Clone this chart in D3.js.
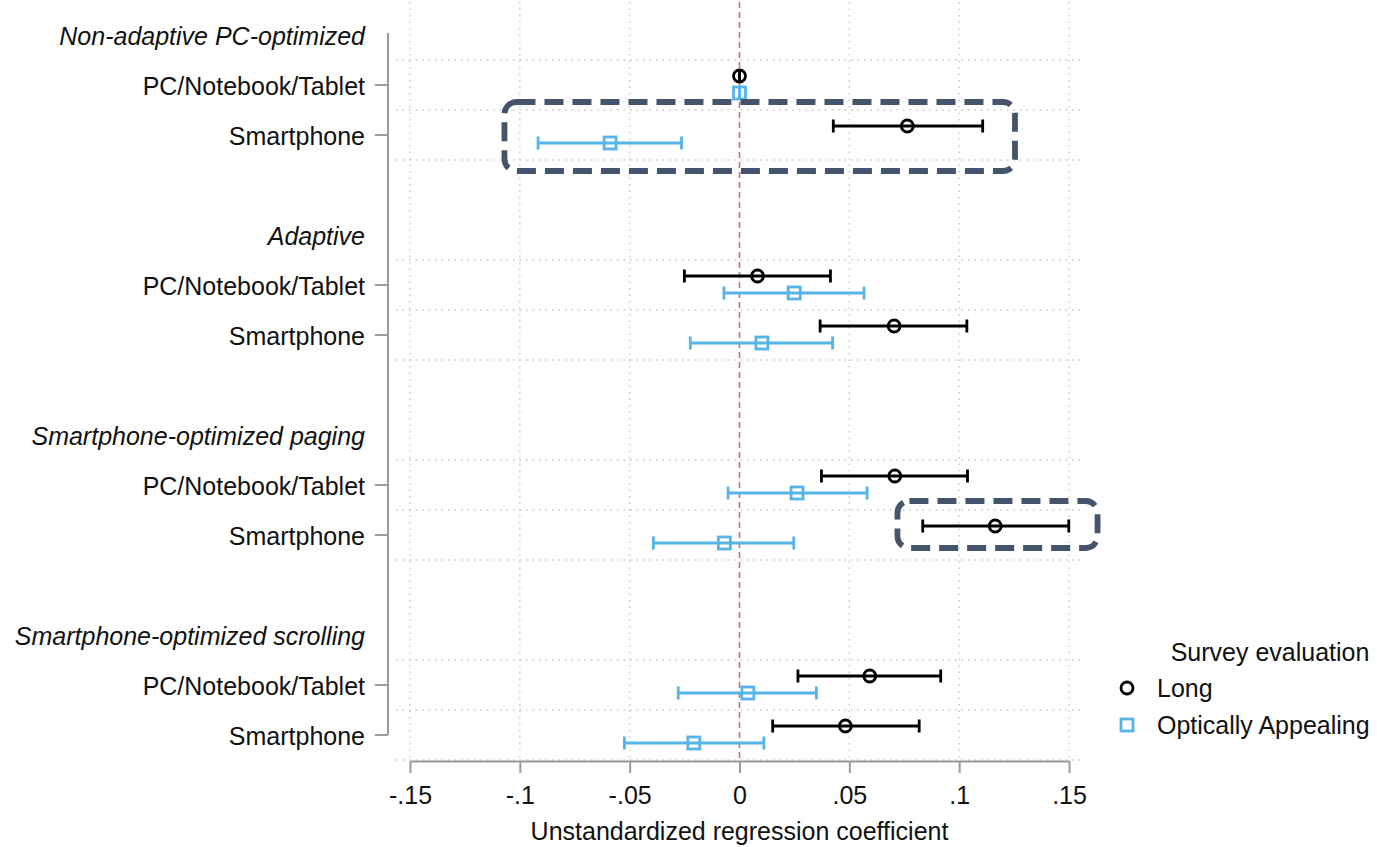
<!DOCTYPE html>
<html>
<head>
<meta charset="utf-8">
<script src="https://cdn.jsdelivr.net/npm/d3@7"></script>
<style>
  html, body { margin: 0; padding: 0; background: #fff; }
  svg { display: block; font-family: "Liberation Sans", Arial, sans-serif; }
</style>
</head>
<body>
<svg id="chart" width="1377" height="847"></svg>
<script>
// Layout groups and device rows
const groups = ["Non-adaptive PC-optimized", "Adaptive", "Smartphone-optimized paging", "Smartphone-optimized scrolling"];
const devices = ["PC/Notebook/Tablet", "Smartphone"];

// Coefficients and 95% CI bounds, one entry per group x device (in order)
const longEst = [0, 0.0764, 0.0082, 0.0704, 0.0707, 0.1164, 0.0593, 0.0482];
const longLo  = [0, 0.0427, -0.0251, 0.0367, 0.0373, 0.0834, 0.0266, 0.0151];
const longHi  = [0, 0.1107, 0.0414, 0.1035, 0.1038, 0.1499, 0.0916, 0.0818];
const optEst  = [0, -0.0589, 0.0249, 0.0102, 0.0262, -0.0069, 0.0038, -0.0208];
const optLo   = [0, -0.0917, -0.0071, -0.0224, -0.0052, -0.0392, -0.0279, -0.0524];
const optHi   = [0, -0.0264, 0.0567, 0.0424, 0.0581, 0.0247, 0.0350, 0.0111];

const seriesNames = ["Long", "Optically Appealing"];
const xTicks = [-0.15, -0.1, -0.05, 0, 0.05, 0.1, 0.15];
const xTickLabels = ["-.15", "-.1", "-.05", "0", ".05", ".1", ".15"];
const legendTitle = "Survey evaluation";
const xTitle = "Unstandardized regression coefficient";

// Highlight boxes: coefficient range and row-slot range
const highlightX0 = [-0.107, 0.0719];
const highlightX1 = [0.1254, 0.163];
const highlightS0 = [1.34, 9.32];
const highlightS1 = [2.72, 10.26];

const svg = d3.select("#chart");
const FONT = 25;
const colLong = "#000000";
const colOpt = "#56B4E9";

const x = d3.scaleLinear().domain([-0.15, 0.15]).range([410, 1069]);
// each group takes 4 slots: header, PC, Smartphone, spacer
const y = d3.scaleLinear().domain([0, 15]).range([35, 785]);
const plotTop = 2, axisY = 761;

const rows = [];
groups.forEach((g, gi) => devices.forEach((d, di) => {
  const i = gi * 2 + di;
  rows.push({ group: g, device: d, slot: gi * 4 + 1 + di,
    long: { est: longEst[i], lo: longLo[i], hi: longHi[i] },
    opt: { est: optEst[i], lo: optLo[i], hi: optHi[i] } });
}));

// dotted gridlines: horizontal ones around each device row, vertical ones at ticks
const gridG = svg.append("g").attr("stroke", "#c4c4c4").attr("stroke-width", 1.3)
  .attr("stroke-dasharray", "1.5,5");
groups.forEach((g, gi) => {
  [0.5, 1.5, 2.5].forEach(o => {
    const yy = y(gi * 4 + o);
    gridG.append("line").attr("x1", 396).attr("x2", 1080).attr("y1", yy).attr("y2", yy);
  });
});
xTicks.filter(t => t !== 0).forEach(t => {
  gridG.append("line").attr("x1", x(t)).attr("x2", x(t)).attr("y1", plotTop).attr("y2", axisY);
});

// reference line at zero
svg.append("line").attr("x1", x(0)).attr("x2", x(0)).attr("y1", plotTop).attr("y2", axisY)
  .attr("stroke", "#c4708a").attr("stroke-width", 1.6).attr("stroke-dasharray", "6,4");

// x axis
const xAxis = d3.axisBottom(x).tickValues(xTicks).tickFormat((d, i) => xTickLabels[i])
  .tickSize(12).tickSizeOuter(0).tickPadding(13);
const xg = svg.append("g").attr("transform", `translate(0,${axisY})`).call(xAxis);
xg.select(".domain").attr("stroke", "#9a9a9a").attr("stroke-width", 2);
xg.selectAll(".tick line").attr("stroke", "#9a9a9a").attr("stroke-width", 2);
xg.selectAll(".tick text").attr("font-size", FONT).attr("fill", "#111").attr("font-family", "Liberation Sans, Arial, sans-serif");

svg.append("text").attr("x", x(0)).attr("y", 840).attr("text-anchor", "middle")
  .attr("font-size", FONT).attr("fill", "#111").text(xTitle);

// y axis (spans header of first group to last row)
const yAxisX = 388;
svg.append("line").attr("x1", yAxisX).attr("x2", yAxisX).attr("y1", y(0) - 2).attr("y2", y(14))
  .attr("stroke", "#9a9a9a").attr("stroke-width", 2);
rows.forEach(r => {
  svg.append("line").attr("x1", yAxisX - 13).attr("x2", yAxisX).attr("y1", y(r.slot)).attr("y2", y(r.slot))
    .attr("stroke", "#9a9a9a").attr("stroke-width", 2);
  svg.append("text").attr("x", 365).attr("y", y(r.slot) + 1).attr("dy", "0.35em").attr("text-anchor", "end")
    .attr("font-size", FONT).attr("fill", "#111").text(r.device);
});
groups.forEach((g, gi) => {
  svg.append("text").attr("x", 365).attr("y", y(gi * 4) + 1).attr("dy", "0.35em").attr("text-anchor", "end")
    .attr("font-size", FONT).attr("font-style", "italic").attr("fill", "#111").text(g);
});

// estimates with CI whiskers
function drawSeries(key, color, offset, shape) {
  const g = svg.append("g");
  rows.forEach(r => {
    const v = r[key];
    const yy = y(r.slot) + offset;
    g.append("line").attr("x1", x(v.lo)).attr("x2", x(v.hi)).attr("y1", yy).attr("y2", yy)
      .attr("stroke", color).attr("stroke-width", 2.8);
    [v.lo, v.hi].forEach(c => g.append("line").attr("x1", x(c)).attr("x2", x(c))
      .attr("y1", yy - 6.5).attr("y2", yy + 6.5).attr("stroke", color).attr("stroke-width", 2.8));
    if (shape === "circle") {
      g.append("circle").attr("cx", x(v.est)).attr("cy", yy).attr("r", 6)
        .attr("fill", "none").attr("stroke", color).attr("stroke-width", 2.8);
    } else {
      g.append("rect").attr("x", x(v.est) - 6).attr("y", yy - 6).attr("width", 12).attr("height", 12)
        .attr("fill", "none").attr("stroke", color).attr("stroke-width", 2.8);
    }
  });
}
drawSeries("long", colLong, -9, "circle");
drawSeries("opt", colOpt, 8, "square");

// highlight boxes
highlightX0.forEach((x0, i) => {
  svg.append("rect").attr("x", x(x0)).attr("y", y(highlightS0[i]))
    .attr("width", x(highlightX1[i]) - x(x0)).attr("height", y(highlightS1[i]) - y(highlightS0[i]))
    .attr("rx", 12).attr("ry", 12).attr("fill", "none")
    .attr("stroke", "#44546A").attr("stroke-width", 5.8).attr("stroke-dasharray", "19,9");
});

// legend
svg.append("text").attr("x", 1270).attr("y", 652).attr("dy", "0.35em").attr("text-anchor", "middle")
  .attr("font-size", FONT).attr("fill", "#111").text(legendTitle);
const legY = [688, 725];
svg.append("circle").attr("cx", 1127).attr("cy", legY[0]).attr("r", 6)
  .attr("fill", "none").attr("stroke", colLong).attr("stroke-width", 2.8);
svg.append("rect").attr("x", 1121).attr("y", legY[1] - 6).attr("width", 12).attr("height", 12)
  .attr("fill", "none").attr("stroke", colOpt).attr("stroke-width", 2.8);
seriesNames.forEach((s, i) => {
  svg.append("text").attr("x", 1157).attr("y", legY[i]).attr("dy", "0.35em")
    .attr("font-size", FONT).attr("fill", "#111").text(s);
});
</script>
</body>
</html>
